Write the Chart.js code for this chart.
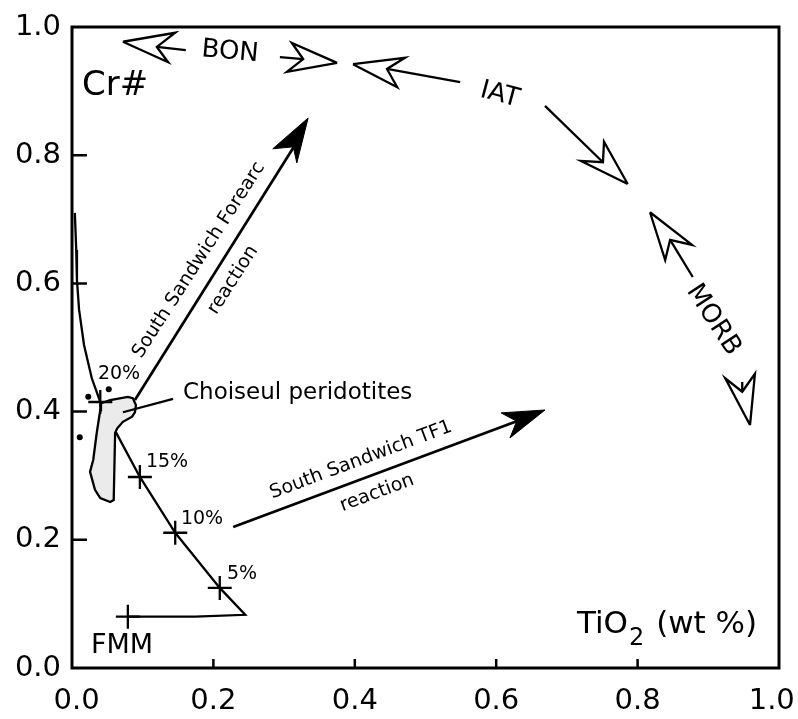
<!DOCTYPE html>
<html>
<head>
<meta charset="utf-8">
<script src="https://cdn.jsdelivr.net/npm/chart.js@4"></script>
<style>
  html, body { margin: 0; background: #fff; }
</style>
</head>
<body>
<canvas id="chart" width="798" height="719"></canvas>
<script>
// axes
const xTicks = [0, 0.2, 0.4, 0.6, 0.8, 1.0];
const yTicks = [0, 0.2, 0.4, 0.6, 0.8, 1.0];

// melting trend from FMM, [TiO2, Cr#]
const meltCurve = [[0.004, 0.710], [0.006, 0.652], [0.007, 0.605], [0.010, 0.559], [0.017, 0.504],
  [0.028, 0.452], [0.040, 0.415], [0.062, 0.368], [0.096, 0.298], [0.146, 0.211],
  [0.209, 0.125], [0.245, 0.083], [0.174, 0.080], [0.079, 0.080]];

// melting steps marked with crosses
const meltSteps = ['FMM', '5%', '10%', '15%', '20%'];
const meltStepX = [0.079, 0.209, 0.146, 0.096, 0.040];
const meltStepY = [0.080, 0.125, 0.211, 0.298, 0.415];

// Choiseul peridotites field outline
const choiseulField = [[0.041, 0.413], [0.054, 0.418], [0.079, 0.423], [0.086, 0.421], [0.0905, 0.410],
  [0.089, 0.399], [0.085, 0.392], [0.072, 0.384], [0.064, 0.374], [0.061, 0.367],
  [0.059, 0.262], [0.054, 0.259], [0.040, 0.265], [0.0325, 0.278], [0.0255, 0.306],
  [0.030, 0.3245], [0.035, 0.367], [0.040, 0.4025]];
const choiseulLeader = [[0.072, 0.399], [0.143, 0.420]];

// single samples
const sampleX = [0.023, 0.052, 0.011];
const sampleY = [0.423, 0.435, 0.360];

// reaction trends
const forearcShaft = [[0.089, 0.418], [0.315, 0.815]];
const forearcHead = [[0.334, 0.858], [0.284, 0.810], [0.313, 0.813], [0.318, 0.788]];
const tf1Shaft = [[0.228, 0.220], [0.629, 0.385]];
const tf1Head = [[0.669, 0.4025], [0.607, 0.398], [0.629, 0.385], [0.6195, 0.359]];

// tectonic setting trends along the top (head: tip, barb, notch, barb)
const bonLeftHead = [[0.072, 0.977], [0.146, 0.991], [0.120, 0.969], [0.136, 0.945]];
const bonLeftStem = [[0.120, 0.969], [0.161, 0.964]];
const bonRightHead = [[0.375, 0.944], [0.311, 0.975], [0.327, 0.950], [0.304, 0.930]];
const bonRightStem = [[0.294, 0.953], [0.327, 0.950]];
const iatLeftHead = [[0.3975, 0.942], [0.471, 0.952], [0.4455, 0.9345], [0.460, 0.906]];
const iatLeftStem = [[0.4455, 0.9345], [0.549, 0.914]];
const iatRightHead = [[0.786, 0.755], [0.7525, 0.821], [0.751, 0.789], [0.720, 0.791]];
const iatRightStem = [[0.669, 0.877], [0.751, 0.789]];
const morbUpHead = [[0.8175, 0.711], [0.877, 0.660], [0.846, 0.668], [0.839, 0.6365]];
const morbUpStem = [[0.846, 0.668], [0.878, 0.610]];
const morbDownHead = [[0.959, 0.379], [0.924, 0.452], [0.948, 0.431], [0.966, 0.459]];
const morbDownStem = [[0.948, 0.446], [0.948, 0.431]];

// text notes anchored in data units
const stepLabelX = [0.0707, 0.2405, 0.1839, 0.1344, 0.0665];
const stepLabelY = [0.0343, 0.1466, 0.2325, 0.3214, 0.4587];
const notes = [
  { t: 'BON', x: 0.2235, y: 0.961, rot: 5, size: 26 },
  { t: 'IAT', x: 0.605, y: 0.894, rot: 15, size: 26 },
  { t: 'MORB', x: 0.907, y: 0.543, rot: 57, size: 26 },
  { t: 'Cr#', x: 0.0141, y: 0.908, size: 34, align: 'left' },
  { t: 'Choiseul peridotites', x: 0.157, y: 0.429, size: 23, align: 'left' },
  { t: 'South Sandwich Forearc', x: 0.1796, y: 0.6365, rot: -57.3, size: 19 },
  { t: 'reaction', x: 0.2277, y: 0.6053, rot: -57.3, size: 19 },
  { t: 'South Sandwich TF1', x: 0.4088, y: 0.3245, rot: -20.5, size: 19 },
  { t: 'reaction', x: 0.4314, y: 0.273, rot: -20.5, size: 19 }
];
meltSteps.forEach((s, i) => {
  notes.push({ t: s, x: stepLabelX[i], y: stepLabelY[i], size: s === 'FMM' ? 27 : 19 });
});

Chart.defaults.font.family = 'DejaVu Sans';
Chart.defaults.color = '#000';

function pts(arr) {
  return arr.map(p => ({ x: p[0], y: p[1] }));
}
function path(arr, extra) {
  return Object.assign({
    data: pts(arr), borderColor: '#000', borderWidth: 2.3, pointRadius: 0,
    fill: false, tension: 0, borderJoinStyle: 'miter'
  }, extra || {});
}
function head(arr, extra) {
  return path(arr.concat([arr[0]]), extra);
}

const datasets = [
  {
    data: meltStepX.map((v, i) => ({ x: v, y: meltStepY[i] })),
    showLine: false, pointStyle: 'cross', pointRadius: 12,
    borderColor: '#000', borderWidth: 2.3
  },
  {
    data: sampleX.map((v, i) => ({ x: v, y: sampleY[i] })),
    showLine: false, pointStyle: 'circle', pointRadius: 3,
    backgroundColor: '#000', borderWidth: 0
  },
  path(choiseulLeader),
  path(forearcShaft, { borderWidth: 2.7 }),
  head(forearcHead, { fill: 'shape', backgroundColor: '#000', borderWidth: 1 }),
  path(tf1Shaft, { borderWidth: 2.7 }),
  head(tf1Head, { fill: 'shape', backgroundColor: '#000', borderWidth: 1 }),
  head(bonLeftHead), path(bonLeftStem),
  head(bonRightHead), path(bonRightStem),
  head(iatLeftHead), path(iatLeftStem),
  head(iatRightHead), path(iatRightStem),
  head(morbUpHead), path(morbUpStem),
  head(morbDownHead), path(morbDownStem),
  head(choiseulField, { fill: 'shape', backgroundColor: '#ebebeb' }),
  path(meltCurve)
];

const framePlugin = {
  id: 'frame',
  afterDraw(chart) {
    const { ctx, chartArea: a, scales: { x, y } } = chart;
    ctx.save();
    ctx.strokeStyle = '#000';
    ctx.lineWidth = 3;
    ctx.strokeRect(a.left, a.top, a.right - a.left, a.bottom - a.top);

    // inner tick marks
    ctx.lineWidth = 2.5;
    ctx.beginPath();
    xTicks.filter(v => v > 0 && v < 1).forEach(v => {
      const px = x.getPixelForValue(v);
      ctx.moveTo(px, a.bottom);
      ctx.lineTo(px, a.bottom - 9);
    });
    yTicks.filter(v => v > 0 && v < 1).forEach(v => {
      const py = y.getPixelForValue(v);
      ctx.moveTo(a.left, py);
      ctx.lineTo(a.left + 15, py);
    });
    ctx.stroke();

    ctx.fillStyle = '#000';
    notes.forEach(n => {
      ctx.save();
      ctx.translate(x.getPixelForValue(n.x), y.getPixelForValue(n.y));
      if (n.rot) ctx.rotate(n.rot * Math.PI / 180);
      ctx.font = n.size + 'px "DejaVu Sans"';
      ctx.textAlign = n.align || 'center';
      ctx.textBaseline = 'middle';
      ctx.fillText(n.t, 0, 0);
      ctx.restore();
    });

    // axis title with subscript
    let tx = x.getPixelForValue(0.7143);
    const ty = y.getPixelForValue(0.0546);
    ctx.textAlign = 'left';
    ctx.textBaseline = 'alphabetic';
    ctx.font = '31px "DejaVu Sans"';
    ctx.fillText('TiO', tx, ty);
    tx += ctx.measureText('TiO').width + 1;
    ctx.font = '24px "DejaVu Sans"';
    ctx.fillText('2', tx, ty + 12);
    tx += ctx.measureText('2').width + 2;
    ctx.font = '31px "DejaVu Sans"';
    ctx.fillText(' (wt %)', tx, ty);
    ctx.restore();
  }
};

new Chart(document.getElementById('chart'), {
  type: 'line',
  data: { datasets },
  options: {
    responsive: false,
    animation: false,
    events: [],
    layout: { padding: { left: 0, top: 27, right: 19, bottom: 0 } },
    plugins: { legend: { display: false }, tooltip: { enabled: false } },
    scales: {
      x: {
        type: 'linear', min: 0, max: 1,
        afterBuildTicks: s => { s.ticks = xTicks.map(v => ({ value: v })); },
        grid: { display: false, drawTicks: false },
        border: { display: false },
        ticks: {
          font: { size: 29 }, padding: 16, maxRotation: 0, autoSkip: false,
          callback: v => v === 0 ? ' 0.0' : (v === 1 ? '1.0\u2002' : v.toFixed(1))
        },
        afterFit: s => { s.height = 51; s.paddingLeft = 0; s.paddingRight = 0; }
      },
      y: {
        type: 'linear', min: 0, max: 1,
        afterBuildTicks: s => { s.ticks = yTicks.map(v => ({ value: v })); },
        grid: { display: false, drawTicks: false },
        border: { display: false },
        ticks: { font: { size: 29 }, padding: 11, autoSkip: false, callback: v => v.toFixed(1) },
        afterFit: s => { s.width = 72; s.paddingTop = 0; s.paddingBottom = 0; }
      }
    }
  },
  plugins: [framePlugin]
});
</script>
</body>
</html>
